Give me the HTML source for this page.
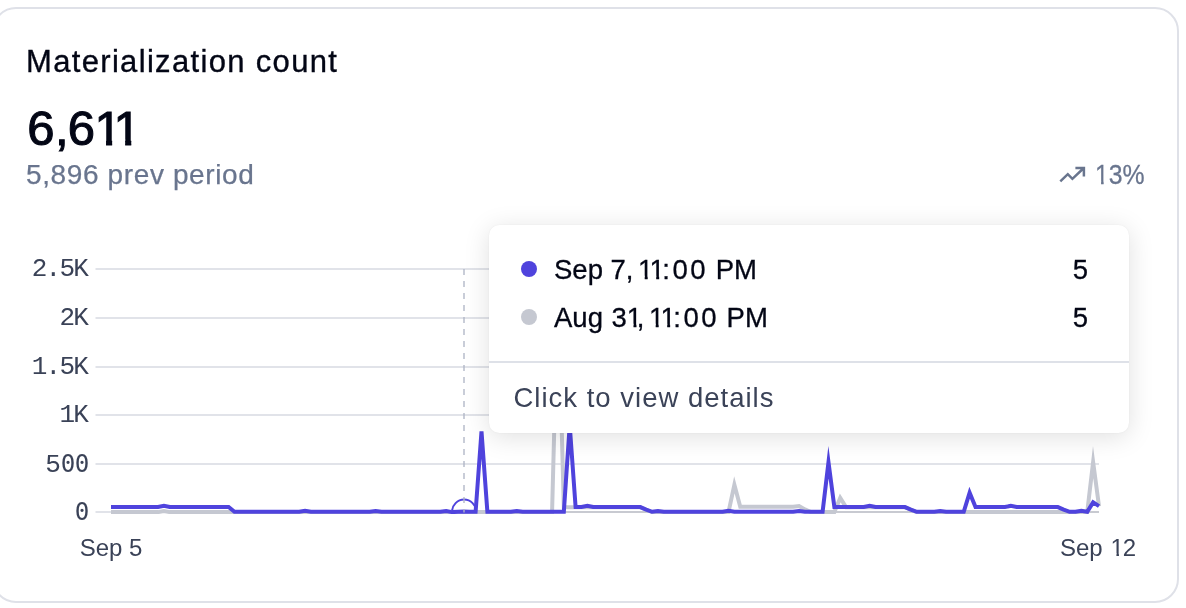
<!DOCTYPE html>
<html lang="en"><head><meta charset="utf-8"><title>Materialization count</title>
<style>
html,body{margin:0;padding:0;background:#fff;}
body{width:1186px;height:608px;position:relative;overflow:hidden;font-family:"Liberation Sans",Arial,sans-serif;color:#030615;}
#root{position:absolute;left:0;top:0;width:1186px;height:608px;will-change:transform;}
.card{position:absolute;left:-8.5px;top:7px;width:1183.5px;height:592px;border:2px solid #DFE1E8;border-radius:24px;background:#fff;}
.t{position:absolute;white-space:nowrap;line-height:1;}
.title{left:26px;top:45.5px;font-size:31px;letter-spacing:1.33px;-webkit-text-stroke:0.35px #030615;}
.big{left:0;top:104.2px;font-size:49px;-webkit-text-stroke:1.1px #030615;width:200px;height:50px}
.big span{position:absolute;top:0;line-height:1}
.one{display:inline-block;line-height:1;clip-path:polygon(0 0,0.352em 0,0.352em 100%,0.246em 100%,0.246em 0.715em,0 0.715em);}
.big .one{clip-path:polygon(0 0,17.75px 0,17.75px 100%,11.65px 100%,11.65px 35px,0 35px);}
.prev{left:26px;top:161px;font-size:28px;letter-spacing:0.62px;color:#69758E;-webkit-text-stroke:0.25px #69758E;}
.pct{left:1095px;top:161px;font-size:28px;color:#69758E;transform:scaleX(0.885);transform-origin:0 0;-webkit-text-stroke:0.3px #69758E;}
.yl{position:absolute;left:0;width:87.2px;text-align:right;font-family:"Liberation Mono","DejaVu Sans Mono",monospace;font-size:26px;line-height:30px;color:#3A4257;white-space:nowrap;letter-spacing:-1.75px}
.yl .z{font-family:"DejaVu Sans Mono","Liberation Mono",monospace;font-size:24.2px;letter-spacing:0;display:inline-block;width:14.1px;text-align:center;position:relative;left:1.7px;top:-0.3px;}
.xl{position:absolute;top:535px;font-size:24px;line-height:26px;color:#3A4257;white-space:nowrap;transform:translateX(-50%);}
svg.chart{position:absolute;left:0;top:0;}
.tip{position:absolute;left:489px;top:225px;width:640px;height:208px;background:#fff;border-radius:10.5px;box-shadow:0 4px 26px rgba(0,0,0,0.125),0 0 2px rgba(0,0,0,0.05);}
.tip .row{position:absolute;left:0;right:0;font-size:27.5px;line-height:30px;color:#030615;white-space:nowrap;-webkit-text-stroke:0.3px #030615;}
.tip .dot{position:absolute;left:32px;width:16px;height:16px;border-radius:50%;}
.tip .lbl{position:absolute;left:65px;}
.tip .val{position:absolute;right:41px;}
.tip .div{position:absolute;left:0;right:0;top:136px;height:2px;background:#DEE1E8;}
.tip .more{position:absolute;left:24.5px;top:157.5px;font-size:27.5px;letter-spacing:1px;line-height:30px;color:#3B4358;white-space:nowrap;}
</style></head><body><div id="root">
<div class="card"></div>
<div class="t title">Materialization count</div>
<div class="t big"><span style="left:27.35px">6</span><span style="left:55px">,</span><span style="left:67.85px">6</span><span class="one" style="left:94.4px">1</span><span class="one" style="left:113.5px">1</span></div>
<div class="t prev">5,896 prev period</div>
<svg class="chart" width="1186" height="608" viewBox="0 0 1186 608">
<path d="M1060.3 181.3 L1067.8 174.2 L1072.4 178.8 L1083.3 168.5 M1075.4 168 H1083.9 V176.4" fill="none" stroke="#69758E" stroke-width="2.5" stroke-linejoin="miter" stroke-linecap="butt"/>
<g stroke="#E1E3E9" stroke-width="2"><line x1="95.5" x2="1099" y1="512.0" y2="512.0"/><line x1="95.5" x2="1099" y1="464.0" y2="464.0"/><line x1="95.5" x2="1099" y1="415.0" y2="415.0"/><line x1="95.5" x2="1099" y1="367.0" y2="367.0"/><line x1="95.5" x2="1099" y1="318.0" y2="318.0"/><line x1="95.5" x2="1099" y1="269.0" y2="269.0"/></g>
<line x1="111" x2="1099" y1="512" y2="512" stroke="#C8CAD1" stroke-width="2"/>
<clipPath id="ca"><rect x="96" y="240" width="1010" height="274"/></clipPath>
<g clip-path="url(#ca)" fill="none" stroke-width="4" stroke-linejoin="miter" stroke-miterlimit="10">
<circle cx="464.1" cy="511.6" r="12" fill="none" stroke="#4F43DD" stroke-width="2"/>
<polyline stroke="#C5C8D1" points="111.00,512.10 116.88,512.10 122.76,512.10 128.64,512.10 134.52,512.10 140.40,512.10 146.29,512.10 152.17,512.10 158.05,512.10 163.93,510.93 169.81,512.10 175.69,512.10 181.57,512.10 187.45,512.10 193.33,512.10 199.21,512.10 205.10,512.10 210.98,512.10 216.86,512.10 222.74,512.10 228.62,512.10 234.50,512.10 240.38,512.10 246.26,512.10 252.14,512.10 258.02,512.10 263.90,512.10 269.79,512.10 275.67,512.10 281.55,512.10 287.43,512.10 293.31,512.10 299.19,512.10 305.07,512.10 310.95,512.10 316.83,512.10 322.71,512.10 328.60,512.10 334.48,512.10 340.36,512.10 346.24,512.10 352.12,512.10 358.00,512.10 363.88,512.10 369.76,512.10 375.64,512.10 381.52,512.10 387.40,512.10 393.29,512.10 399.17,512.10 405.05,512.10 410.93,512.10 416.81,512.10 422.69,512.10 428.57,512.10 434.45,512.10 440.33,512.10 446.21,512.10 452.10,512.10 457.98,512.10 463.86,512.10 469.74,512.10 475.62,512.10 481.50,512.10 487.38,512.10 493.26,512.10 499.14,512.10 505.02,512.10 510.90,512.10 516.79,512.10 522.67,512.10 528.55,512.10 534.43,512.10 540.31,512.10 546.19,512.10 552.07,512.10 557.95,288.54 563.83,507.24 569.71,507.24 575.60,507.24 581.48,507.24 587.36,507.24 593.24,507.24 599.12,507.24 605.00,507.24 610.88,507.24 616.76,507.24 622.64,507.24 628.52,507.24 634.40,507.24 640.29,507.24 646.17,509.77 652.05,512.10 657.93,512.10 663.81,512.10 669.69,512.10 675.57,512.10 681.45,512.10 687.33,512.10 693.21,512.10 699.10,512.10 704.98,512.10 710.86,512.10 716.74,512.10 722.62,512.10 728.50,512.10 734.38,484.79 740.26,506.75 746.14,506.75 752.02,506.75 757.90,506.75 763.79,506.75 769.67,506.75 775.55,506.75 781.43,506.75 787.31,506.75 793.19,506.75 799.07,506.07 804.95,509.38 810.83,512.10 816.71,512.10 822.60,512.10 828.48,512.10 834.36,512.10 840.24,497.91 846.12,507.24 852.00,507.24 857.88,507.24 863.76,507.24 869.64,507.24 875.52,507.24 881.40,507.24 887.29,507.24 893.17,507.24 899.05,507.24 904.93,507.24 910.81,509.67 916.69,512.10 922.57,512.10 928.45,512.10 934.33,512.10 940.21,512.10 946.10,512.10 951.98,512.10 957.86,512.10 963.74,512.10 969.62,512.10 975.50,512.10 981.38,512.10 987.26,512.10 993.14,512.10 999.02,512.10 1004.90,512.10 1010.79,512.10 1016.67,512.10 1022.55,512.10 1028.43,512.10 1034.31,512.10 1040.19,512.10 1046.07,512.10 1051.95,512.10 1057.83,512.10 1063.71,512.10 1069.60,512.10 1075.48,512.10 1081.36,512.10 1087.24,512.10 1093.12,462.04 1099.00,506.27"/>
<polyline stroke="#4F43DD" points="111.00,507.05 116.88,507.05 122.76,507.05 128.64,507.05 134.52,507.05 140.40,507.05 146.29,507.05 152.17,507.05 158.05,507.05 163.93,505.68 169.81,507.05 175.69,507.05 181.57,507.05 187.45,507.05 193.33,507.05 199.21,507.05 205.10,507.05 210.98,507.05 216.86,507.05 222.74,507.05 228.62,507.05 234.50,511.81 240.38,511.81 246.26,511.81 252.14,511.81 258.02,511.81 263.90,511.81 269.79,511.81 275.67,511.81 281.55,511.81 287.43,511.81 293.31,511.81 299.19,511.81 305.07,510.74 310.95,511.81 316.83,511.81 322.71,511.81 328.60,511.81 334.48,511.81 340.36,511.81 346.24,511.81 352.12,511.81 358.00,511.81 363.88,511.81 369.76,511.81 375.64,511.13 381.52,511.81 387.40,511.81 393.29,511.81 399.17,511.81 405.05,511.81 410.93,511.81 416.81,511.81 422.69,511.81 428.57,511.81 434.45,511.81 440.33,511.81 446.21,510.93 452.10,512.10 457.98,511.81 463.86,511.61 469.74,511.81 475.62,511.81 481.50,431.42 487.38,511.81 493.26,511.81 499.14,511.81 505.02,511.81 510.90,511.81 516.79,510.93 522.67,511.81 528.55,511.81 534.43,511.81 540.31,511.81 546.19,511.81 552.07,511.81 557.95,511.81 563.83,511.81 569.71,425.11 575.60,507.05 581.48,507.05 587.36,505.68 593.24,507.05 599.12,507.05 605.00,507.05 610.88,507.05 616.76,507.05 622.64,507.05 628.52,507.05 634.40,507.05 640.29,507.05 646.17,509.57 652.05,511.81 657.93,511.13 663.81,511.81 669.69,511.81 675.57,511.81 681.45,511.81 687.33,511.81 693.21,511.81 699.10,511.81 704.98,511.81 710.86,511.81 716.74,511.81 722.62,511.81 728.50,510.74 734.38,511.81 740.26,511.81 746.14,511.81 752.02,511.81 757.90,511.81 763.79,511.81 769.67,511.81 775.55,511.81 781.43,511.81 787.31,511.81 793.19,511.81 799.07,510.93 804.95,511.81 810.83,511.81 816.71,511.81 822.60,511.81 828.48,462.14 834.36,507.05 840.24,507.05 846.12,507.05 852.00,507.05 857.88,507.05 863.76,507.05 869.64,505.68 875.52,507.05 881.40,507.05 887.29,507.05 893.17,507.05 899.05,507.05 904.93,507.05 910.81,509.57 916.69,511.81 922.57,511.81 928.45,511.81 934.33,511.81 940.21,511.13 946.10,511.81 951.98,511.81 957.86,511.81 963.74,511.81 969.62,492.66 975.50,507.05 981.38,507.05 987.26,507.05 993.14,507.05 999.02,507.05 1004.90,507.05 1010.79,505.88 1016.67,507.05 1022.55,507.05 1028.43,507.05 1034.31,507.05 1040.19,507.05 1046.07,507.05 1051.95,507.05 1057.83,507.05 1063.71,509.57 1069.60,511.81 1075.48,511.81 1081.36,510.74 1087.24,511.81 1093.12,502.38 1099.00,506.07"/>
</g>
<line x1="464" x2="464" y1="269" y2="512.5" stroke="#B0B5C6" stroke-opacity="0.68" stroke-width="2" stroke-dasharray="6 6"/>
</svg>
<div class="t pct"><span class="one">1</span>3%</div>
<div class="yl" style="top:497.4px"><span class="z">0</span></div><div class="yl" style="top:449.4px">5<span class="z">0</span><span class="z">0</span></div><div class="yl" style="top:400.4px">1K</div><div class="yl" style="top:352.4px">1.5K</div><div class="yl" style="top:303.4px">2K</div><div class="yl" style="top:254.4px">2.5K</div>
<div class="xl" style="left:111px">Sep 5</div>
<div class="xl" style="left:1098px">Sep <span class="one" style="margin-left:1.2px;margin-right:-1.2px">1</span>2</div>
<div class="tip">
<div class="row" style="top:30px"><span class="dot" style="top:6px;background:#4F43DD"></span><span class="lbl">Sep 7, <span class="one" style="margin-left:-3.2px">1</span><span class="one" style="margin-left:-3.8px">1</span><span style="margin-left:-2.5px;letter-spacing:2.5px">:00</span> PM</span><span class="val">5</span></div>
<div class="row" style="top:78px"><span class="dot" style="top:6px;background:#C5C8D1"></span><span class="lbl">Aug <span style="margin-left:0.9px">3</span><span class="one">1</span><span style="margin-left:-5.3px">,</span> <span class="one" style="margin-left:-3.1px">1</span><span class="one" style="margin-left:-3.8px">1</span><span style="margin-left:-2.5px;letter-spacing:2.5px">:00</span> PM</span><span class="val">5</span></div>
<div class="div"></div>
<div class="more">Click to view details</div>
</div>
</div></body></html>
